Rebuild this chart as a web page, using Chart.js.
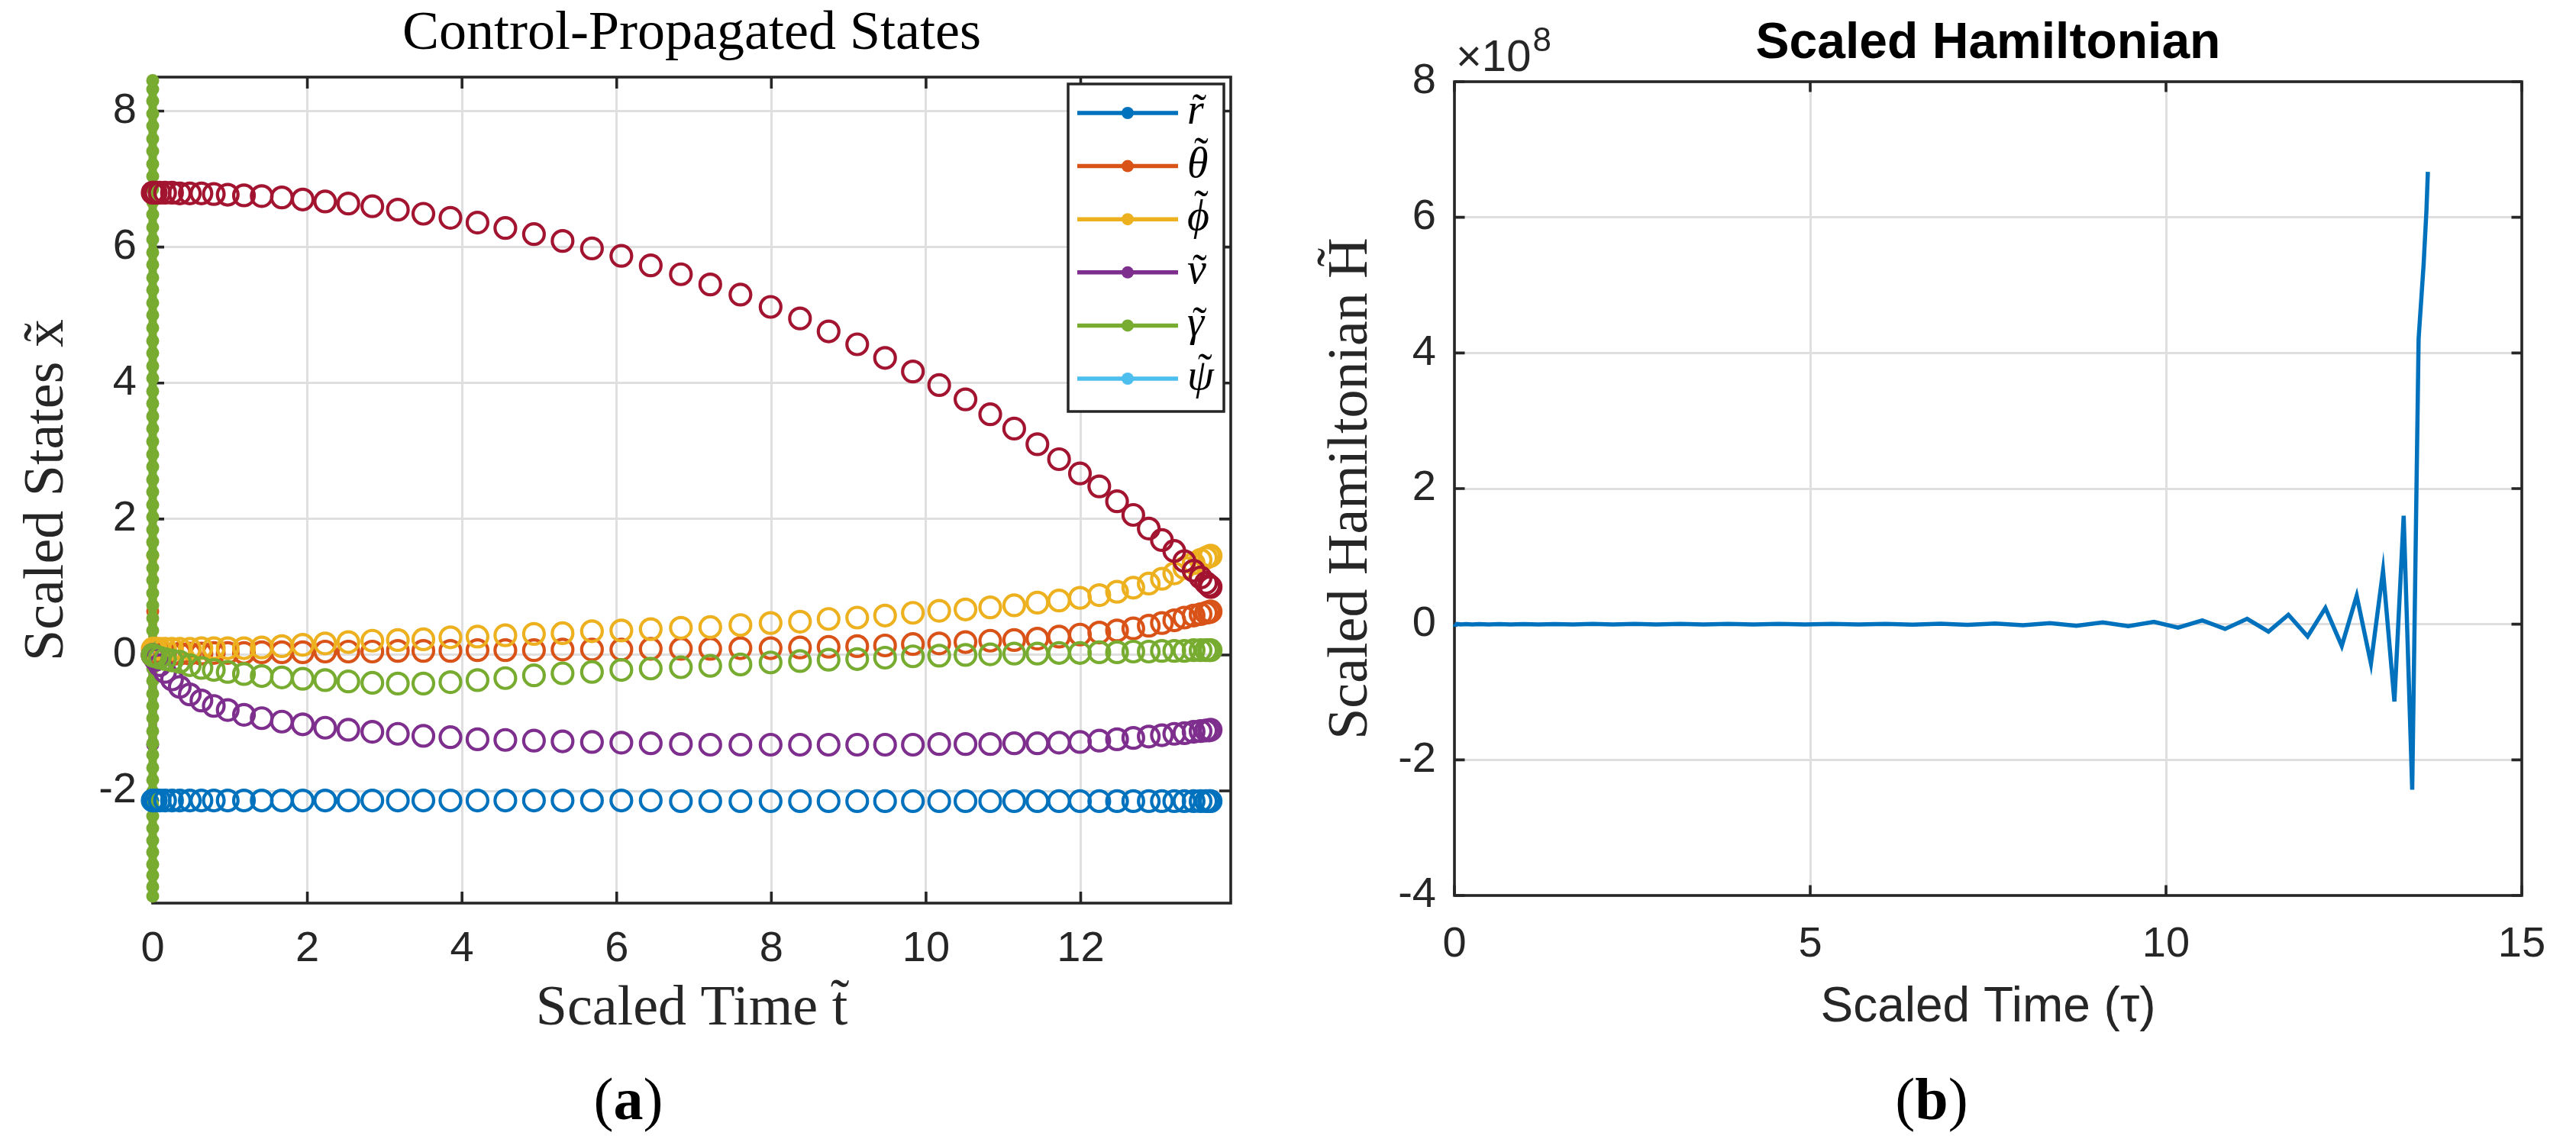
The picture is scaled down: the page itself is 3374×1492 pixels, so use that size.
<!DOCTYPE html>
<html>
<head>
<meta charset="utf-8">
<script src="https://cdn.jsdelivr.net/npm/chart.js@4.4.1/dist/chart.umd.min.js"></script>
<style>
  html, body { margin: 0; padding: 0; background: #fff; overflow: hidden; }
  #wrap { position: relative; width: 3374px; height: 1492px; background: #fff; }
  canvas { position: absolute; top: 0; }
  #statesChart { left: 0; }
  #hamChart { left: 1690px; }
  .cap {
    position: absolute; top: 1401px; transform: translateX(-50%);
    font-family: "Liberation Serif", serif; font-size: 78px; line-height: 78px; color: #000;
  }
</style>
</head>
<body>
<div id="wrap">
  <canvas id="statesChart" width="1690" height="1492"></canvas>
  <canvas id="hamChart" width="1684" height="1492"></canvas>
  <div class="cap" style="left:823px">(<b>a</b>)</div>
  <div class="cap" style="left:2530px">(<b>b</b>)</div>
</div>
<script>
// collocation times (scaled time), shared by both panels
const tNodes = [
  0, 0.01, 0.04, 0.09, 0.16, 0.25, 0.35, 0.48, 0.63, 0.79,
  0.97, 1.18, 1.41, 1.67, 1.94, 2.23, 2.53, 2.84, 3.17, 3.50,
  3.85, 4.20, 4.56, 4.93, 5.30, 5.68, 6.06, 6.44, 6.83, 7.21,
  7.60, 7.99, 8.37, 8.74, 9.11, 9.47, 9.83, 10.17, 10.51, 10.83,
  11.14, 11.44, 11.72, 11.99, 12.24, 12.47, 12.68, 12.88, 13.05, 13.21,
  13.34, 13.46, 13.55, 13.62, 13.66, 13.68
];

// propagated states (open circles)
const rVals = [
  -2.14, -2.14, -2.14, -2.14, -2.14, -2.14, -2.14, -2.14, -2.14, -2.14,
  -2.14, -2.14, -2.14, -2.14, -2.14, -2.14, -2.14, -2.14, -2.14, -2.14,
  -2.14, -2.14, -2.14, -2.14, -2.14, -2.14, -2.14, -2.14, -2.15, -2.15,
  -2.15, -2.15, -2.15, -2.15, -2.15, -2.15, -2.15, -2.15, -2.15, -2.15,
  -2.15, -2.15, -2.15, -2.15, -2.15, -2.15, -2.15, -2.15, -2.15, -2.15,
  -2.15, -2.15, -2.15, -2.15, -2.15, -2.15
];
const thetaVals = [
  0, 0, 0, 0.01, 0.01, 0.01, 0.02, 0.02, 0.02, 0.03,
  0.03, 0.03, 0.04, 0.04, 0.04, 0.05, 0.05, 0.05, 0.06, 0.06,
  0.06, 0.07, 0.07, 0.07, 0.08, 0.08, 0.08, 0.09, 0.09, 0.09,
  0.10, 0.10, 0.11, 0.12, 0.13, 0.14, 0.16, 0.17, 0.19, 0.21,
  0.22, 0.24, 0.27, 0.30, 0.33, 0.36, 0.39, 0.43, 0.47, 0.51,
  0.55, 0.58, 0.60, 0.62, 0.63, 0.64
];
const phiVals = [
  0.09, 0.09, 0.09, 0.09, 0.09, 0.09, 0.09, 0.09, 0.10, 0.10,
  0.10, 0.10, 0.11, 0.13, 0.15, 0.17, 0.19, 0.21, 0.22, 0.23,
  0.26, 0.27, 0.29, 0.31, 0.32, 0.35, 0.36, 0.38, 0.40, 0.41,
  0.44, 0.47, 0.49, 0.53, 0.55, 0.58, 0.62, 0.65, 0.67, 0.70,
  0.73, 0.77, 0.80, 0.84, 0.88, 0.93, 0.99, 1.05, 1.12, 1.20,
  1.28, 1.35, 1.40, 1.43, 1.45, 1.46
];
const vVals = [
  0, -0.02, -0.07, -0.15, -0.25, -0.36, -0.47, -0.58, -0.67, -0.75,
  -0.81, -0.88, -0.93, -0.98, -1.02, -1.07, -1.10, -1.13, -1.16, -1.19,
  -1.21, -1.24, -1.25, -1.26, -1.27, -1.28, -1.29, -1.30, -1.31, -1.32,
  -1.32, -1.32, -1.32, -1.32, -1.32, -1.32, -1.32, -1.31, -1.31, -1.31,
  -1.30, -1.30, -1.29, -1.28, -1.26, -1.24, -1.22, -1.20, -1.18, -1.16,
  -1.15, -1.13, -1.12, -1.11, -1.11, -1.10
];
const gammaVals = [
  0, -0.01, -0.02, -0.04, -0.06, -0.08, -0.10, -0.15, -0.19, -0.22,
  -0.25, -0.28, -0.31, -0.33, -0.35, -0.37, -0.39, -0.41, -0.42, -0.42,
  -0.40, -0.37, -0.34, -0.30, -0.27, -0.25, -0.22, -0.20, -0.18, -0.16,
  -0.14, -0.11, -0.09, -0.07, -0.06, -0.04, -0.02, -0.01, 0.00, 0.01,
  0.02, 0.02, 0.03, 0.03, 0.04, 0.04, 0.05, 0.05, 0.06, 0.06,
  0.06, 0.07, 0.07, 0.07, 0.07, 0.07
];
const extraVals = [
  6.80, 6.80, 6.80, 6.80, 6.80, 6.80, 6.79, 6.79, 6.79, 6.78,
  6.77, 6.76, 6.75, 6.73, 6.70, 6.67, 6.64, 6.60, 6.55, 6.49,
  6.43, 6.36, 6.28, 6.19, 6.09, 5.98, 5.87, 5.73, 5.60, 5.45,
  5.30, 5.12, 4.95, 4.76, 4.57, 4.37, 4.17, 3.97, 3.76, 3.54,
  3.33, 3.10, 2.88, 2.67, 2.48, 2.26, 2.06, 1.86, 1.69, 1.53,
  1.38, 1.24, 1.14, 1.06, 1.02, 1.00
];

// dot-line series sitting on t = 0 (the ones named in the legend)
const gammaLineY = [
  -3.55, -3.41, -3.24, -3.08, -2.90, -2.73, -2.55, -2.37, -2.20, -2.01,
  -1.84, -1.66, -1.47, -1.30, -1.12, -0.93, -0.75, -0.57, -0.38, -0.20,
  0.00, 0.17, 0.36, 0.54, 0.73, 0.91, 1.10, 1.28, 1.47, 1.66,
  1.84, 2.03, 2.21, 2.40, 2.58, 2.77, 2.95, 3.14, 3.33, 3.51,
  3.70, 3.88, 4.07, 4.25, 4.44, 4.62, 4.81, 5.00, 5.18, 5.37,
  5.55, 5.74, 5.92, 6.11, 6.29, 6.48, 6.66, 6.85, 7.04, 7.22,
  7.41, 7.59, 7.78, 7.96, 8.15, 8.32, 8.45
];
const rLineY = [-2.14];
const thetaLineY = [0, 0.64];
const phiLineY = [0.09, 1.46];
const vLineY = [0, -1.32];
const psiLineY = [0];

// legend symbols, each drawn with a tilde above it
const legendLabels = ["r", "\u03b8", "\u03d5", "v", "\u03b3", "\u03c8"];

// scaled Hamiltonian
const hamVals = [
  0, -0.003e8, 0.003e8, -0.003e8, 0.003e8, -0.003e8, 0.003e8, -0.003e8, 0.003e8, -0.003e8,
  0.003e8, -0.003e8, 0.003e8, -0.003e8, 0.004e8, -0.004e8, 0.004e8, -0.004e8, 0.004e8, -0.004e8,
  0.004e8, -0.004e8, 0.004e8, -0.005e8, 0.005e8, -0.005e8, 0.005e8, -0.006e8, 0.008e8, -0.008e8,
  0.011e8, -0.015e8, 0.015e8, -0.022e8, 0.026e8, -0.030e8, 0.034e8, -0.050e8, 0.056e8, -0.07e8,
  0.08e8, -0.11e8, 0.14e8, -0.18e8, 0.24e8, -0.32e8, 0.42e8, -0.58e8, 0.79e8, -1.14e8,
  1.60e8, -2.44e8, 4.21e8, 5.30e8, 6.10e8, 6.67e8
];

const statesXTicks = [0, 2, 4, 6, 8, 10, 12];
const statesYTicks = [-2, 0, 2, 4, 6, 8];
const hamXTicks = [0, 5, 10, 15];
const hamYTicks = [-4, -2, 0, 2, 4, 6, 8]; // times 10^8

const C = {
  blue: "#0072BD", orange: "#D95319", yellow: "#EDB120", purple: "#7E2F8E",
  green: "#77AC30", cyan: "#4DBEEE", red: "#A2142F"
};
const AXIS = "#262626";
const GRID = "#dfdfdf";
const SANS = "Liberation Sans";
const SERIF = "Liberation Serif";

function circles(vals, color, order) {
  return {
    data: tNodes.map((t, i) => ({ x: t, y: vals[i] })),
    showLine: false,
    pointStyle: "circle",
    pointRadius: 13.5,
    pointBorderWidth: 4.2,
    pointBorderColor: color,
    pointBackgroundColor: "rgba(0,0,0,0)",
    clip: false,
    order: order
  };
}

function dotLine(ys, color, label, order) {
  return {
    label: label,
    inLegend: true,
    data: ys.map((y) => ({ x: 0, y: y })),
    showLine: true,
    borderColor: color,
    borderWidth: 11,
    pointRadius: 8.5,
    pointBorderWidth: 0,
    pointBackgroundColor: color,
    clip: false,
    order: order
  };
}

// box around the axes with MATLAB style inward ticks
const axisBox = {
  id: "axisBox",
  beforeDatasetsDraw(chart, args, opts) {
    const { ctx, chartArea: a } = chart;
    const xs = chart.scales.x, ys = chart.scales.y;
    ctx.save();
    ctx.strokeStyle = AXIS;
    ctx.lineWidth = opts.width;
    ctx.beginPath();
    xs.ticks.forEach((t) => {
      const px = xs.getPixelForValue(t.value);
      ctx.moveTo(px, a.bottom);
      ctx.lineTo(px, a.bottom - opts.len);
      ctx.moveTo(px, a.top);
      ctx.lineTo(px, a.top + opts.len);
    });
    ys.ticks.forEach((t) => {
      const py = ys.getPixelForValue(t.value);
      ctx.moveTo(a.left, py);
      ctx.lineTo(a.left + opts.len, py);
      ctx.moveTo(a.right, py);
      ctx.lineTo(a.right - opts.len, py);
    });
    ctx.stroke();
    ctx.strokeRect(a.left, a.top, a.right - a.left, a.bottom - a.top);
    ctx.restore();
  }
};

// legend box inside the top right corner
const insideLegend = {
  id: "insideLegend",
  afterDraw(chart) {
    const { ctx, chartArea: a } = chart;
    const items = chart.data.datasets.filter((d) => d.inLegend);
    const w = 204, h = 429;
    const left = a.right - 9 - w, top = a.top + 9;
    ctx.save();
    ctx.fillStyle = "#fff";
    ctx.fillRect(left, top, w, h);
    ctx.lineWidth = 3.5;
    ctx.strokeStyle = AXIS;
    ctx.strokeRect(left, top, w, h);
    items.forEach((d, i) => {
      const cy = top + 38 + i * 69.6;
      ctx.strokeStyle = d.borderColor;
      ctx.lineWidth = 5.5;
      ctx.beginPath();
      ctx.moveTo(left + 12, cy);
      ctx.lineTo(left + 144, cy);
      ctx.stroke();
      ctx.fillStyle = d.borderColor;
      ctx.beginPath();
      ctx.arc(left + 78, cy, 8, 0, Math.PI * 2);
      ctx.fill();

      // symbol, then a tilde centred over its ink
      ctx.fillStyle = "#000";
      ctx.font = 'italic 56px "' + SERIF + '"';
      ctx.textAlign = "left";
      ctx.textBaseline = "alphabetic";
      const bx = left + 156, by = cy + 14;
      ctx.fillText(d.label, bx, by);
      const m = ctx.measureText(d.label);
      const glyphTop = by - m.actualBoundingBoxAscent;
      const glyphMid = bx + (m.actualBoundingBoxRight - m.actualBoundingBoxLeft) / 2;
      ctx.font = '56px "' + SERIF + '"';
      const tm = ctx.measureText("\u02dc");
      const tWidth = tm.actualBoundingBoxRight + tm.actualBoundingBoxLeft;
      const tx = glyphMid + 4 - tWidth / 2 + tm.actualBoundingBoxLeft;
      const ty = glyphTop - 4 - tm.actualBoundingBoxDescent;
      ctx.fillText("\u02dc", tx, ty);
    });
    ctx.restore();
  }
};

// "x10^8" exponent above the y axis
const exponentLabel = {
  id: "exponentLabel",
  afterDraw(chart) {
    const { ctx, chartArea: a } = chart;
    ctx.save();
    ctx.fillStyle = AXIS;
    ctx.textAlign = "left";
    ctx.textBaseline = "alphabetic";
    ctx.font = '58px "' + SANS + '"';
    ctx.fillText("\u00d710", a.left + 2, 93);
    const w = ctx.measureText("\u00d710").width;
    ctx.font = '44px "' + SANS + '"';
    ctx.fillText("8", a.left + 4 + w, 67);
    ctx.restore();
  }
};

const tickFont = { family: SANS, size: 56 };
const labelFont = { family: SERIF, size: 74 };

// (a) control-propagated states
new Chart(document.getElementById("statesChart"), {
  type: "scatter",
  data: {
    datasets: [
      circles(extraVals, C.red, 1),
      circles(gammaVals, C.green, 2),
      circles(vVals, C.purple, 3),
      circles(phiVals, C.yellow, 4),
      circles(thetaVals, C.orange, 5),
      circles(rVals, C.blue, 6),
      dotLine(rLineY, C.blue, legendLabels[0], 12),
      dotLine(thetaLineY, C.orange, legendLabels[1], 11),
      dotLine(phiLineY, C.yellow, legendLabels[2], 10),
      dotLine(vLineY, C.purple, legendLabels[3], 9),
      dotLine(gammaLineY, C.green, legendLabels[4], 8),
      dotLine(psiLineY, C.cyan, legendLabels[5], 7)
    ]
  },
  options: {
    responsive: false,
    animation: false,
    devicePixelRatio: 1,
    events: [],
    layout: { padding: { left: 0, right: 78, top: 0, bottom: 109 } },
    scales: {
      x: {
        type: "linear",
        min: 0,
        max: 13.94,
        afterBuildTicks: (s) => { s.ticks = statesXTicks.map((v) => ({ value: v })); },
        afterFit: (s) => { s.height = 200; },
        ticks: { font: tickFont, color: AXIS, padding: 27, maxRotation: 0, autoSkip: false, callback: (v) => String(v) },
        grid: { color: GRID, lineWidth: 3, drawTicks: false },
        border: { display: false },
        title: { display: true, text: "Scaled Time t\u0303", font: labelFont, color: AXIS, padding: { top: 0, bottom: 16 } }
      },
      y: {
        type: "linear",
        min: -3.65,
        max: 8.5,
        afterBuildTicks: (s) => { s.ticks = statesYTicks.map((v) => ({ value: v })); },
        afterFit: (s) => { s.width = 200; },
        ticks: { font: tickFont, color: AXIS, padding: 21, autoSkip: false, callback: (v) => String(v) },
        grid: { color: GRID, lineWidth: 3, drawTicks: false },
        border: { display: false },
        title: { display: true, text: "Scaled States x\u0303", font: labelFont, color: AXIS, padding: { top: 18, bottom: 0 } }
      }
    },
    plugins: {
      legend: { display: false },
      tooltip: { enabled: false },
      title: {
        display: true,
        fullSize: false,
        text: "Control-Propagated States",
        font: { family: SERIF, size: 72, weight: "normal" },
        color: "#000",
        padding: { top: 1.5, bottom: 13.1 }
      },
      axisBox: { width: 3.6, len: 15 }
    }
  },
  plugins: [axisBox, insideLegend]
});

// (b) scaled Hamiltonian
new Chart(document.getElementById("hamChart"), {
  type: "line",
  data: {
    datasets: [
      {
        data: tNodes.map((t, i) => ({ x: t, y: hamVals[i] })),
        borderColor: C.blue,
        borderWidth: 5.5,
        pointRadius: 0,
        tension: 0,
        fill: false,
        clip: false
      }
    ]
  },
  options: {
    responsive: false,
    animation: false,
    devicePixelRatio: 1,
    events: [],
    layout: { padding: { left: 0, right: 71, top: 0, bottom: 119 } },
    scales: {
      x: {
        type: "linear",
        min: 0,
        max: 15,
        afterBuildTicks: (s) => { s.ticks = hamXTicks.map((v) => ({ value: v })); },
        afterFit: (s) => { s.height = 200; },
        ticks: { font: tickFont, color: AXIS, padding: 31, maxRotation: 0, autoSkip: false, callback: (v) => String(v) },
        grid: { color: GRID, lineWidth: 3, drawTicks: false },
        border: { display: false },
        title: { display: true, text: "Scaled Time (\u03c4)", font: { family: SANS, size: 64 }, color: AXIS, padding: { top: 0, bottom: 14.6 } }
      },
      y: {
        type: "linear",
        min: -4e8,
        max: 8e8,
        afterBuildTicks: (s) => { s.ticks = hamYTicks.map((v) => ({ value: v * 1e8 })); },
        afterFit: (s) => { s.width = 215; },
        ticks: { font: tickFont, color: AXIS, padding: 24, autoSkip: false, callback: (v) => String(Math.round(v / 1e8)) },
        grid: { color: GRID, lineWidth: 3, drawTicks: false },
        border: { display: false },
        title: { display: true, text: "Scaled Hamiltonian H\u0303", font: labelFont, color: AXIS, padding: { top: 36.6, bottom: 0 } }
      }
    },
    plugins: {
      legend: { display: false },
      tooltip: { enabled: false },
      title: {
        display: true,
        fullSize: false,
        text: "Scaled Hamiltonian",
        font: { family: SANS, size: 66, weight: "bold" },
        color: "#000",
        padding: { top: 18.4, bottom: 9.4 }
      },
      axisBox: { width: 3.6, len: 13.5 }
    }
  },
  plugins: [axisBox, exponentLabel]
});
</script>
</body>
</html>
